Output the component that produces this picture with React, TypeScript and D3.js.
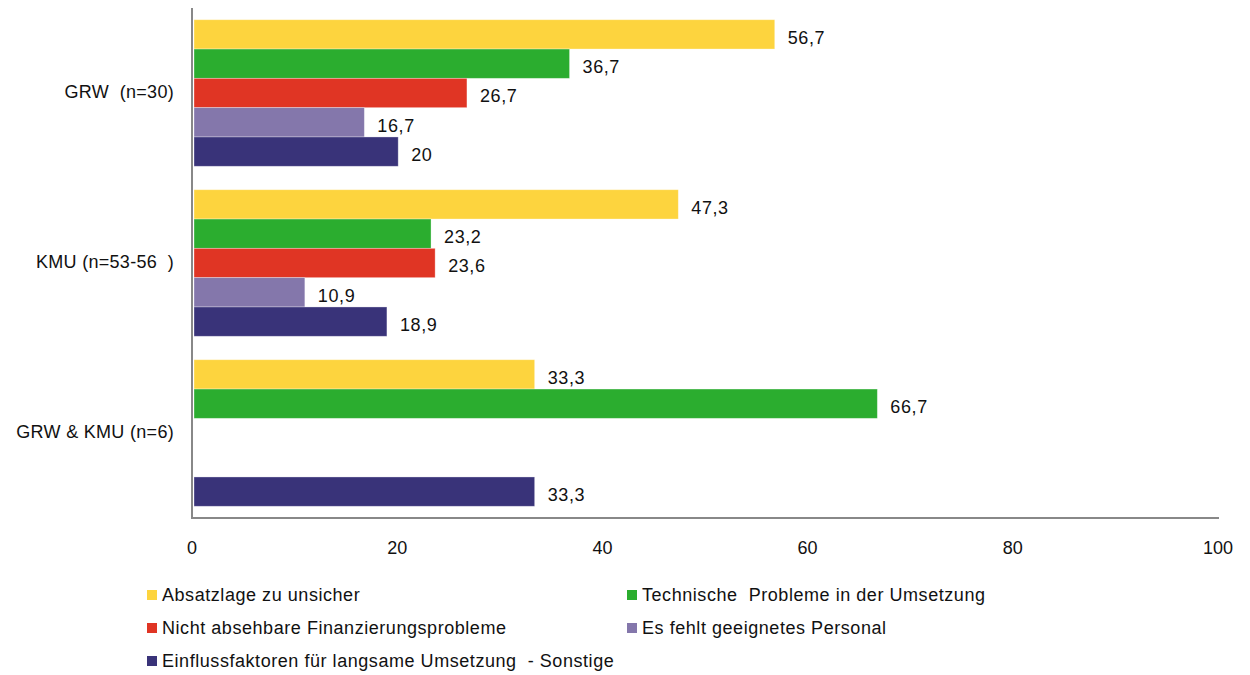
import { useEffect, useRef } from 'react'
import * as d3 from 'd3'

const groups = ['GRW  (n=30)', 'KMU (n=53-56  )', 'GRW & KMU (n=6)']
const seriesNames = [
  'Absatzlage zu unsicher',
  'Technische  Probleme in der Umsetzung',
  'Nicht absehbare Finanzierungsprobleme',
  'Es fehlt geeignetes Personal',
  'Einflussfaktoren für langsame Umsetzung  - Sonstige',
]
const seriesColors = ['#fdd43e', '#2bad2f', '#e03524', '#8477ab', '#393379']
// values per group, in series order (null = no bar)
const grwValues = [56.7, 36.7, 26.7, 16.7, 20]
const kmuValues = [47.3, 23.2, 23.6, 10.9, 18.9]
const bothValues = [33.3, 66.7, null, null, 33.3]
const xTicks = [0, 20, 40, 60, 80, 100]

const fmt = (v: number) => (Number.isInteger(v) ? String(v) : v.toFixed(1).replace('.', ','))

export default function App() {
  const svgRef = useRef<SVGSVGElement>(null)

  useEffect(() => {
    if (!svgRef.current) return
    const svg = d3.select(svgRef.current)
    svg.selectAll('*').remove()

    const font = '"Liberation Sans", Arial, sans-serif'
    const fs = 18
    const data = [grwValues, kmuValues, bothValues]

    const x = d3.scaleLinear().domain([0, 100]).range([193, 1219])
    const y0 = d3.scaleBand<string>().domain(groups).range([8, 518])
    const y1 = d3
      .scaleBand<number>()
      .domain(d3.range(seriesNames.length))
      .range([0, y0.bandwidth()])
      .paddingOuter(0.4)
      .paddingInner(0)

    const g = svg.append('g')

    // Bars
    groups.forEach((grp, gi) => {
      const row = g.append('g').attr('transform', `translate(0,${y0(grp)})`)
      data[gi].forEach((v, si) => {
        if (v == null) return
        row
          .append('rect')
          .attr('x', x(0) + 1)
          .attr('y', y1(si)!)
          .attr('width', x(v) - x(0) - 1)
          .attr('height', y1.bandwidth())
          .attr('fill', seriesColors[si])
          .attr('stroke', '#ffffff')
          .attr('stroke-opacity', 0.4)
          .attr('stroke-width', 0.8)
        row
          .append('text')
          .attr('x', x(v) + 13)
          .attr('y', y1(si)! + y1.bandwidth() / 2 + 4.5)
          .attr('dominant-baseline', 'middle')
          .attr('font-family', font)
          .attr('font-size', fs)
          .attr('letter-spacing', 0.6)
          .attr('fill', '#111')
          .text(fmt(v))
      })
      // Category label
      g.append('text')
        .attr('x', 174)
        .attr('y', y0(grp)! + y0.bandwidth() / 2)
        .attr('text-anchor', 'end')
        .attr('dominant-baseline', 'middle')
        .attr('font-family', font)
        .attr('font-size', fs)
        .attr('letter-spacing', 0.3)
        .attr('fill', '#111')
        .style('white-space', 'pre')
        .text(grp)
    })

    // Axes lines
    g.append('line')
      .attr('x1', x(0) - 1)
      .attr('x2', x(0) - 1)
      .attr('y1', 8)
      .attr('y2', 519)
      .attr('stroke', '#888')
      .attr('stroke-width', 2)
    g.append('line')
      .attr('x1', x(0) - 2)
      .attr('x2', x(100))
      .attr('y1', 518)
      .attr('y2', 518)
      .attr('stroke', '#888')
      .attr('stroke-width', 2)

    // X tick labels
    g.selectAll('.xt')
      .data(xTicks)
      .join('text')
      .attr('class', 'xt')
      .attr('x', d => x(d) - 1)
      .attr('y', 549)
      .attr('text-anchor', 'middle')
      .attr('dominant-baseline', 'middle')
      .attr('font-family', font)
      .attr('font-size', fs)
      .attr('fill', '#111')
      .text(d => String(d))

    // Legend
    const legendPos = [
      [147, 595],
      [627, 595],
      [147, 628],
      [627, 628],
      [147, 661],
    ]
    seriesNames.forEach((name, i) => {
      const [lx, ly] = legendPos[i]
      g.append('rect')
        .attr('x', lx)
        .attr('y', ly - 5)
        .attr('width', 10)
        .attr('height', 10)
        .attr('fill', seriesColors[i])
      g.append('text')
        .attr('x', lx + 15)
        .attr('y', ly + 1)
        .attr('dominant-baseline', 'middle')
        .attr('font-family', font)
        .attr('font-size', fs)
        .attr('letter-spacing', 0.55)
        .attr('fill', '#111')
        .style('white-space', 'pre')
        .text(name)
    })
  }, [])

  return (
    <svg
      ref={svgRef}
      width={1250}
      height={675}
      style={{ position: 'absolute', left: 0, top: 0, background: '#fff' }}
    />
  )
}
